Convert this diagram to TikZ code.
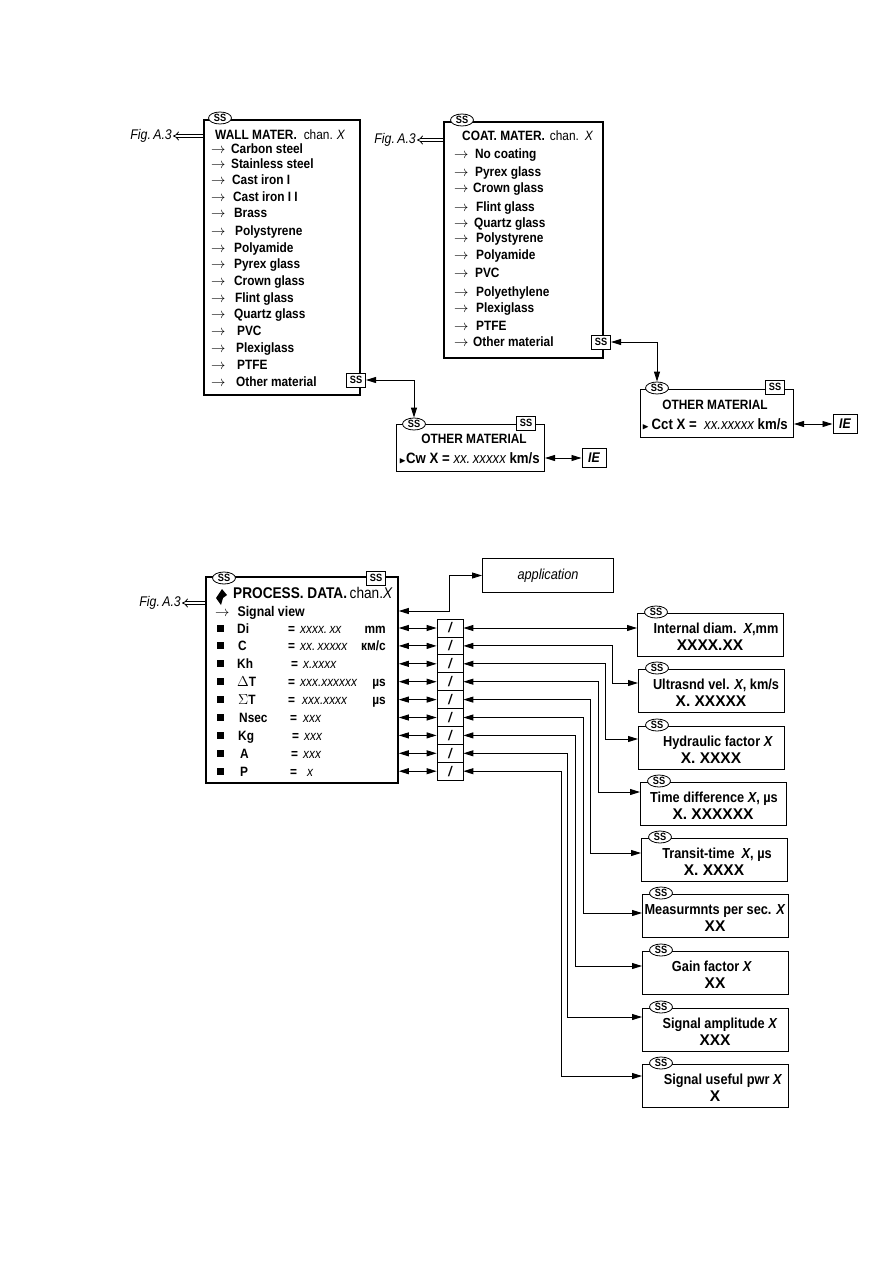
\documentclass[tikz,border=0pt]{standalone}
\usepackage{fontspec}
\usepackage{amssymb}
\setmainfont{Liberation Sans}[FakeStretch=0.88]
\newfontfamily\widefont{Liberation Sans}
\usetikzlibrary{arrows.meta, positioning, calc, shapes.geometric}

\begin{document}
\begin{tikzpicture}[
    x=1pt, y=-1pt,
    >={Triangle[length=10pt, width=6pt]},
    panel/.style={draw, line width=1.8pt, inner sep=0, anchor=north west},
    subpanel/.style={draw, line width=1pt, inner sep=0, anchor=north west},
    ssoval/.style={ellipse, draw, fill=white, line width=0.8pt, inner sep=0, minimum width=23pt, minimum height=12pt, font=\fontsize{10.5}{10.5}\selectfont\bfseries},
    ssbox/.style={draw, fill=white, line width=1pt, inner sep=0, minimum width=19pt, minimum height=14pt, font=\fontsize{10.5}{10.5}\selectfont\bfseries},
    item/.style={anchor=west, inner sep=0, text height=10pt, text depth=0pt, font=\fontsize{13.5}{16}\selectfont\bfseries},
    valline/.style={item, font=\fontsize{15}{17}\selectfont\bfseries},
    figref/.style={anchor=east, inner sep=1pt, font=\fontsize{14}{16}\selectfont\itshape},
    figarrow/.style={double, double distance=2.2pt, line width=0.8pt, -{Implies}},
    link/.style={<->, line width=0.9pt},
    iebox/.style={draw, line width=1pt, inner sep=0, minimum width=24pt, minimum height=19pt, font=\fontsize{14}{16}\selectfont\bfseries\itshape},
    slashbox/.style={draw, line width=0.8pt, inner sep=0, minimum width=26pt, minimum height=17.9pt, font=\fontsize{14}{16}\selectfont\bfseries\itshape},
    bullet/.style={fill, inner sep=0, minimum size=7pt},
    target/.style={draw, line width=1.1pt, inner sep=0, anchor=north west, minimum height=43pt},
]
    \useasboundingbox (0,0) rectangle (893,1263);

    % Wall material menu
    \node[panel, minimum width=156pt, minimum height=275pt] (wall) at (203,119) {};
    \node[ssoval] (wallov) at (220,118) {SS};
    \node[item] (walltitle) at (215,134) {WALL MATER.\hspace{7pt}{\mdseries chan.\hspace{4pt}\itshape X}};
    \foreach \y/\g/\t [count=\i] in {148/5.5/Carbon steel, 163/5.5/Stainless steel, 179/6.5/Cast iron I,
        196/7.5/Cast iron I I, 212/8.5/Brass, 230/9.5/Polystyrene, 247/8.5/Polyamide, 263/8.5/Pyrex glass,
        280/8.5/Crown glass, 297/9.5/Flint glass, 313/8.5/Quartz glass, 330/11.5/PVC,
        347/10.5/Plexiglass, 364/11.5/PTFE, 381/10.5/Other material}
        \node[item] (wi\i) at (211,\y) {$\rightarrow$\hspace{\g pt}\t};
    \node[ssbox] (wallss) at (356,380) {SS};
    \node[figref] (wallfig) at (173,136) {Fig.\,A.3};
    \draw[figarrow] (wallfig.east -| wall.west) -- (wallfig.east);

    % Coating material menu
    \node[panel, minimum width=159pt, minimum height=236pt] (coat) at (443,121) {};
    \node[ssoval] (coatov) at (462,120) {SS};
    \node[item] (coattitle) at (462,135) {COAT. MATER.\hspace{5pt}{\mdseries chan.\hspace{6pt}\itshape X}};
    \foreach \y/\g/\t [count=\i] in {153/6.5/No coating, 171/6.5/Pyrex glass, 187/4.5/Crown glass,
        206/7.5/Flint glass, 222/5.5/Quartz glass, 237/7.5/Polystyrene, 254/7.5/Polyamide, 272/6.5/PVC,
        291/7.5/Polyethylene, 307/7.5/Plexiglass, 325/7.5/PTFE, 341/4.5/Other material}
        \node[item] (ci\i) at (454,\y) {$\rightarrow$\hspace{\g pt}\t};
    \node[ssbox] (coatss) at (601,342) {SS};
    \node[figref] (coatfig) at (417,140) {Fig.\,A.3};
    \draw[figarrow] (coatfig.east -| coat.west) -- (coatfig.east);

    % Other material (wall)
    \node[subpanel, minimum width=148pt, minimum height=47pt] (wallom) at (396,424) {};
    \node[ssoval] (wallomov) at (414,424) {SS};
    \node[ssbox] (wallomss) at (526,423) {SS};
    \node[item, anchor=center] (wallomtitle) at (474,438) {OTHER MATERIAL};
    \node[valline] (wallomval) at (399,458) {{\fontsize{9}{9}\selectfont$\blacktriangleright$}Cw X = {\mdseries\itshape xx.\,xxxxx} km/s};
    \node[iebox] (wallie) at (594,458) {IE};
    \draw[link] (wallss.east) -| (wallomov.north);
    \draw[link] (wallie.west -| wallom.east) -- (wallie.west);

    % Other material (coating)
    \node[subpanel, minimum width=153pt, minimum height=48pt] (coatom) at (640,389) {};
    \node[ssoval] (coatomov) at (657,388) {SS};
    \node[ssbox] (coatomss) at (775,387) {SS};
    \node[item, anchor=center] (coatomtitle) at (715,404) {OTHER MATERIAL};
    \node[valline] (coatomval) at (642,424) {{\fontsize{9}{9}\selectfont$\blacktriangleright$}\,Cct X =\ \ {\mdseries\itshape xx.xxxxx} km/s};
    \node[iebox] (coatie) at (845,424) {IE};
    \draw[link] (coatss.east) -| (coatomov.north);
    \draw[link] (coatie.west -| coatom.east) -- (coatie.west);

    % Process data menu
    \node[panel, minimum width=192pt, minimum height=206pt] (proc) at (205,576) {};
    \node[ssoval] (procov) at (224,578) {SS};
    \node[ssbox] (procss) at (376,578) {SS};
    \fill (222,589) -- (227,595) -- (223,598) -- (221,605) -- (216,598) -- cycle;
    \node[item, font=\fontsize{15.5}{17}\selectfont\bfseries] (proctitle) at (233,593) {PROCESS. DATA.\,{\mdseries chan.\itshape X}};
    \node[item, font=\fontsize{14}{16}\selectfont\bfseries] (sigview) at (215,611) {$\rightarrow$\hspace{8pt}Signal view};
    \node[figref] (procfig) at (182,603) {Fig.\,A.3};
    \draw[figarrow] (procfig.east -| proc.west) -- (procfig.east);

    \foreach \n/\nx/\ex/\v/\vx/\u [count=\i from 0] in {
        Di/237/288/{xxxx.\,xx}/300/mm,
        C/238/288/{xx.\,xxxxx}/300/{км/с},
        Kh/237/291/{x.xxxx}/303/{},
        {$\Delta$T}/237/288/{xxx.xxxxxx}/300/µs,
        {$\Sigma$T}/238/288/{xxx.xxxx}/302/µs,
        Nsec/239/290/xxx/303/{},
        Kg/238/292/xxx/304/{},
        A/240/291/xxx/303/{},
        P/240/290/x/307/{}}
    {
        \pgfmathsetmacro\ry{628+17.9*\i}
        \node[bullet] (pb\i) at (220.5,\ry) {};
        \node[item] (pn\i) at (\nx,\ry) {\n};
        \node[item] (pe\i) at (\ex,\ry) {=};
        \node[item, font=\fontsize{13.5}{16}\selectfont\itshape] (pv\i) at (\vx,\ry) {\v};
        \node[item, anchor=east] (pu\i) at (386,\ry) {\u};
        \node[slashbox] (s\i) at (450,\ry) {/};
        \draw[link] (s\i.west -| proc.east) -- (s\i.west);
    }

    % application
    \node[subpanel, minimum width=131pt, minimum height=34pt, font=\fontsize{14.5}{16}\selectfont\itshape] (app) at (482,558) {application};
    \draw[link] (sigview -| proc.east) -- ++(51,0) |- (app.west);

    % Value windows
    \node[target, minimum width=146pt] (t0) at (637,613) {};
    \node[ssoval] (tov0) at (656,612) {SS};
    \node[item, anchor=center, font=\fontsize{14.5}{16}\selectfont\bfseries] (ta0) at (716,628) {Internal diam.\ \ \textit{X},mm};
    \node[item, anchor=center, font=\fontsize{15.5}{17}\widefont\bfseries] (tb0) at (710,645) {XXXX.XX};
    \draw[link] (s0.east) -- (s0.east -| t0.west);

    \foreach \i/\lx/\ty/\dy/\vx/\cx/\la/\lb in {
        1/638/669/14/612/716/{Ultrasnd vel. \textit{X}, km/s}/{X. XXXXX},
        2/638/726/13/605/718/{Hydraulic factor \textit{X}}/{X. XXXX},
        3/640/782/10/598/714/{Time difference \textit{X}, µs}/{X. XXXXXX},
        4/641/838/15/590/717/{Transit-time\ \ \textit{X}, µs}/{X. XXXX},
        5/642/894/19/583/715/{Measurmnts per sec. \textit{X}}/{XX},
        6/642/951/15/575/712/{Gain factor \textit{X}}/{XX},
        7/642/1008/9/567/720/{Signal amplitude \textit{X}}/{XXX},
        8/642/1064/12/561/723/{Signal useful pwr \textit{X}}/{X}}
    {
        \node[target, minimum width=146pt] (t\i) at (\lx,\ty) {};
        \node[ssoval] (tov\i) at (\lx+19,\ty-1) {SS};
        \node[item, anchor=center, font=\fontsize{14.5}{16}\selectfont\bfseries] (ta\i) at (\cx,\ty+15) {\la};
        \node[item, anchor=center, font=\fontsize{15.5}{17}\widefont\bfseries] (tb\i) at (\lx+73,\ty+32) {\lb};
        \coordinate (e\i) at ($(t\i.north west)+(0,\dy)$);
        \coordinate (v\i) at (\vx,0);
        \draw[link] (s\i.east) -| (e\i -| v\i) -- (e\i);
    }
\end{tikzpicture}
\end{document}
